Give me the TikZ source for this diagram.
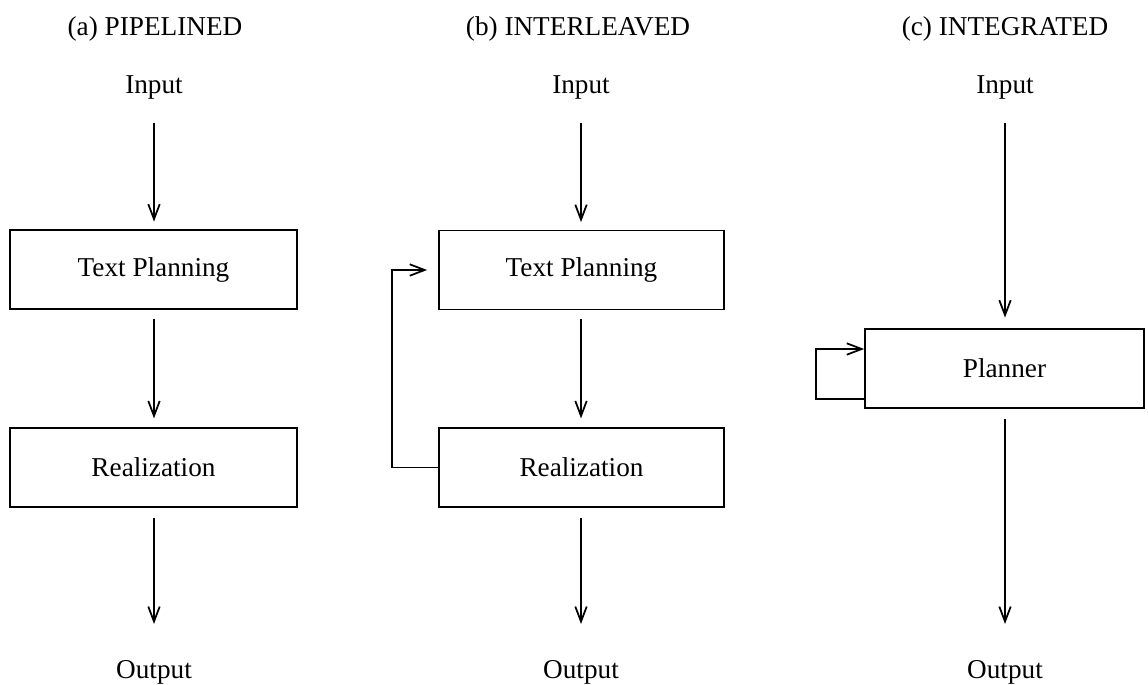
\documentclass[tikz,border=0pt]{standalone}
\usepackage{fontspec}
\setmainfont{Liberation Serif}
\usetikzlibrary{arrows.meta,calc}

\begin{document}
\begin{tikzpicture}[x=0.02cm,y=-0.02cm,line width=1pt,>={Straight Barb[length=8.5pt,width=6.5pt]},
every node/.style={font=\fontsize{15.5}{18}\selectfont},
lbl/.style={inner sep=0pt,anchor=base},
blk/.style={draw,minimum width=5.74cm,minimum height=1.58cm},
gap/.style={shorten <=5pt,shorten >=5pt}]

\useasboundingbox(0,0)rectangle(1148,684);

% titles
\draw(155,35)node[lbl](tA){(a) PIPELINED};
\draw(578,35)node[lbl](tB){(b) INTERLEAVED};
\draw(1005,35)node[lbl](tC){(c) INTEGRATED};

\draw(154,93)node[lbl](inA){Input};
\draw(581,93)node[lbl](inB){Input};
\draw(1005,93)node[lbl](inC){Input};

\draw(154,678)node[lbl](outA){Output};
\draw(581,678)node[lbl](outB){Output};
\draw(1005,678)node[lbl](outC){Output};

% boxes
\draw(153.5,269.5)node[blk](tpA){Text Planning};
\draw(153.5,467.5)node[blk](reA){Realization};
\draw(581.5,270)node[blk,minimum width=5.7cm](tpB){Text Planning};
\draw(581.5,467.5)node[blk,minimum width=5.7cm](reB){Realization};
\draw(1004.5,368.5)node[blk,minimum width=5.58cm](plC){Planner};

% (a)
\draw[->,shorten <=13pt,shorten >=4.3pt](inA.south)--(inA.south|-tpA.north);
\draw[->,gap](tpA.south-|inA)--(reA.north-|inA);
\draw[->,shorten <=6pt,shorten >=20pt](reA.south-|inA)--(outA.north);

% (b)
\draw[->,shorten <=13pt,shorten >=4.3pt](inB.south)--(inB.south|-tpB.north);
\draw[->,gap](tpB.south-|inB)--(reB.north-|inB);
\draw[->,shorten <=6pt,shorten >=20pt](reB.south-|inB)--(outB.north);
\draw[->](reB.west)--++(-46,0)|-($(tpB.west)+(-11,0)$);

% (c)
\draw[->,shorten <=13pt,shorten >=6pt](inC.south)--(inC.south|-plC.north);
\draw[->,shorten <=6pt,shorten >=20pt](plC.south-|inC)--(outC.north);
\draw[->]($(plC.west)+(0,30.5)$)--++(-48,0)|-($(plC.west)+(0,-19.5)$);

\end{tikzpicture}
\end{document}
